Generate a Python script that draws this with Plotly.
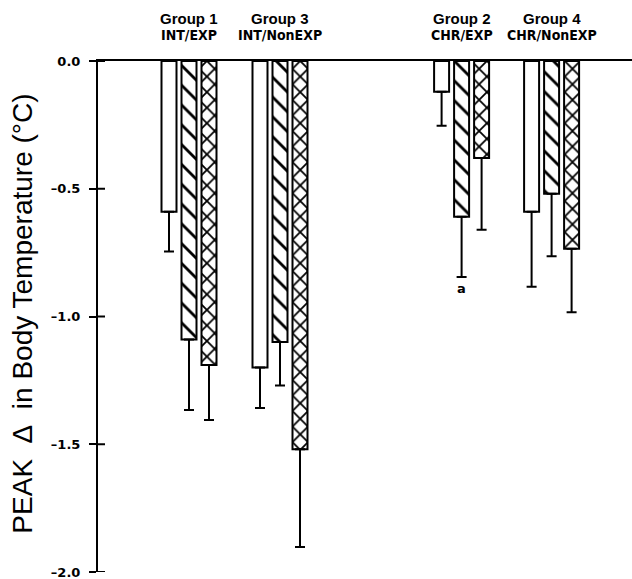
import plotly.graph_objects as go

# ---- data ----
group_names = ["Group 1", "Group 3", "Group 2", "Group 4"]
group_subs = ["INT/EXP", "INT/NonEXP", "CHR/EXP", "CHR/NonEXP"]
open_vals = [-0.59, -1.20, -0.12, -0.59]
hatch_vals = [-1.09, -1.10, -0.61, -0.52]
cross_vals = [-1.19, -1.52, -0.38, -0.735]
open_err = [0.156, 0.158, 0.133, 0.294]
hatch_err = [0.276, 0.17, 0.235, 0.244]
cross_err = [0.215, 0.382, 0.28, 0.248]
y_ticks = [0.0, -0.5, -1.0, -1.5, -2.0]
y_ticktext = ["0.0", "\u20130.5", "\u20131.0", "\u20131.5", "\u20132.0"]
sig_label = "a"

# ---- layout helpers (positions on the x axis, in bar-slot units) ----
x_range = [0.0, 26.7]
centers = [4.55, 9.1, 18.18, 22.68]
offsets = [-1.0, 0.0, 1.0]
bar_w = 0.75

series = [
    (open_vals, open_err, ""),
    (hatch_vals, hatch_err, "\\"),
    (cross_vals, cross_err, "x"),
]

fig = go.Figure()
for (vals, errs, shape), off in zip(series, offsets):
    pattern = dict(shape=shape, fgcolor="black", bgcolor="white", fgopacity=1,
                   size=14 if shape == "\\" else 11,
                   solidity=0.2 if shape == "\\" else 0.3)
    fig.add_trace(go.Bar(
        x=[c + off for c in centers], y=vals, width=bar_w,
        marker=dict(color="white", line=dict(color="black", width=2),
                    pattern=pattern if shape else None),
        error_y=dict(type="data", symmetric=False, array=[0] * len(errs),
                     arrayminus=errs, color="black", thickness=2, width=5),
        showlegend=False, hoverinfo="skip",
    ))

# inward half of each tick mark (ticks cross the y axis)
for t in y_ticks:
    fig.add_shape(type="line", xref="x", xsizemode="pixel", xanchor=x_range[0],
                  x0=0, x1=7, yref="y", y0=t, y1=t, layer="above",
                  line=dict(color="black", width=2))

annotations = []
for c, name, sub in zip(centers, group_names, group_subs):
    annotations.append(dict(x=c, xref="x", y=1.084, yref="paper", text=name,
                            showarrow=False, xanchor="center", yanchor="middle",
                            font=dict(family="Liberation Sans", size=15,
                                      color="black", weight="bold")))
    annotations.append(dict(x=c, xref="x", y=1.051, yref="paper", text=sub,
                            showarrow=False, xanchor="center", yanchor="middle",
                            font=dict(family="DejaVu Sans Condensed", size=14,
                                      color="black", weight="bold")))

# significance letter under Group 2 hatched bar
annotations.append(dict(x=centers[2] + offsets[1], xref="x",
                        y=hatch_vals[2] - hatch_err[2], yref="y", text=sig_label,
                        showarrow=False, xanchor="center", yanchor="top", yshift=-2,
                        font=dict(family="DejaVu Sans", size=13, color="black",
                                  weight="bold")))

# y-axis title
annotations.append(dict(x=-0.141, xref="paper", y=0.505, yref="paper",
                        text="PEAK\u00a0\u00a0\u0394\u00a0\u00a0in Body Temperature (\u00b0C)",
                        textangle=-90, showarrow=False, xanchor="center",
                        yanchor="middle",
                        font=dict(family="Liberation Sans", size=28, color="black")))

fig.update_layout(
    width=632, height=579,
    margin=dict(l=98, r=0, t=61, b=7, autoexpand=False),
    paper_bgcolor="white", plot_bgcolor="white",
    barmode="overlay",
    xaxis=dict(range=x_range, side="top", showline=True, linecolor="black",
               linewidth=2, showgrid=False, zeroline=False, ticks="",
               showticklabels=False, fixedrange=True, automargin=False),
    yaxis=dict(range=[-2.0, 0.0], showline=True, linecolor="black", linewidth=2,
               showgrid=False, zeroline=False, ticks="outside", ticklen=7,
               tickwidth=2, tickcolor="black", tickvals=y_ticks,
               ticktext=y_ticktext, ticklabelstandoff=6, automargin=False,
               ticklabeloverflow="allow", fixedrange=True,
               tickfont=dict(family="DejaVu Sans", size=13, color="black",
                             weight="bold")),
    annotations=annotations,
)

fig.write_html("out.html", config={"displayModeBar": False, "staticPlot": True})

# remove the browser's default page margin so the figure sits at (0, 0)
with open("out.html", "r", encoding="utf-8") as f:
    html = f.read()
html = html.replace("<body>", '<body style="margin:0;padding:0;">', 1)
with open("out.html", "w", encoding="utf-8") as f:
    f.write(html)
